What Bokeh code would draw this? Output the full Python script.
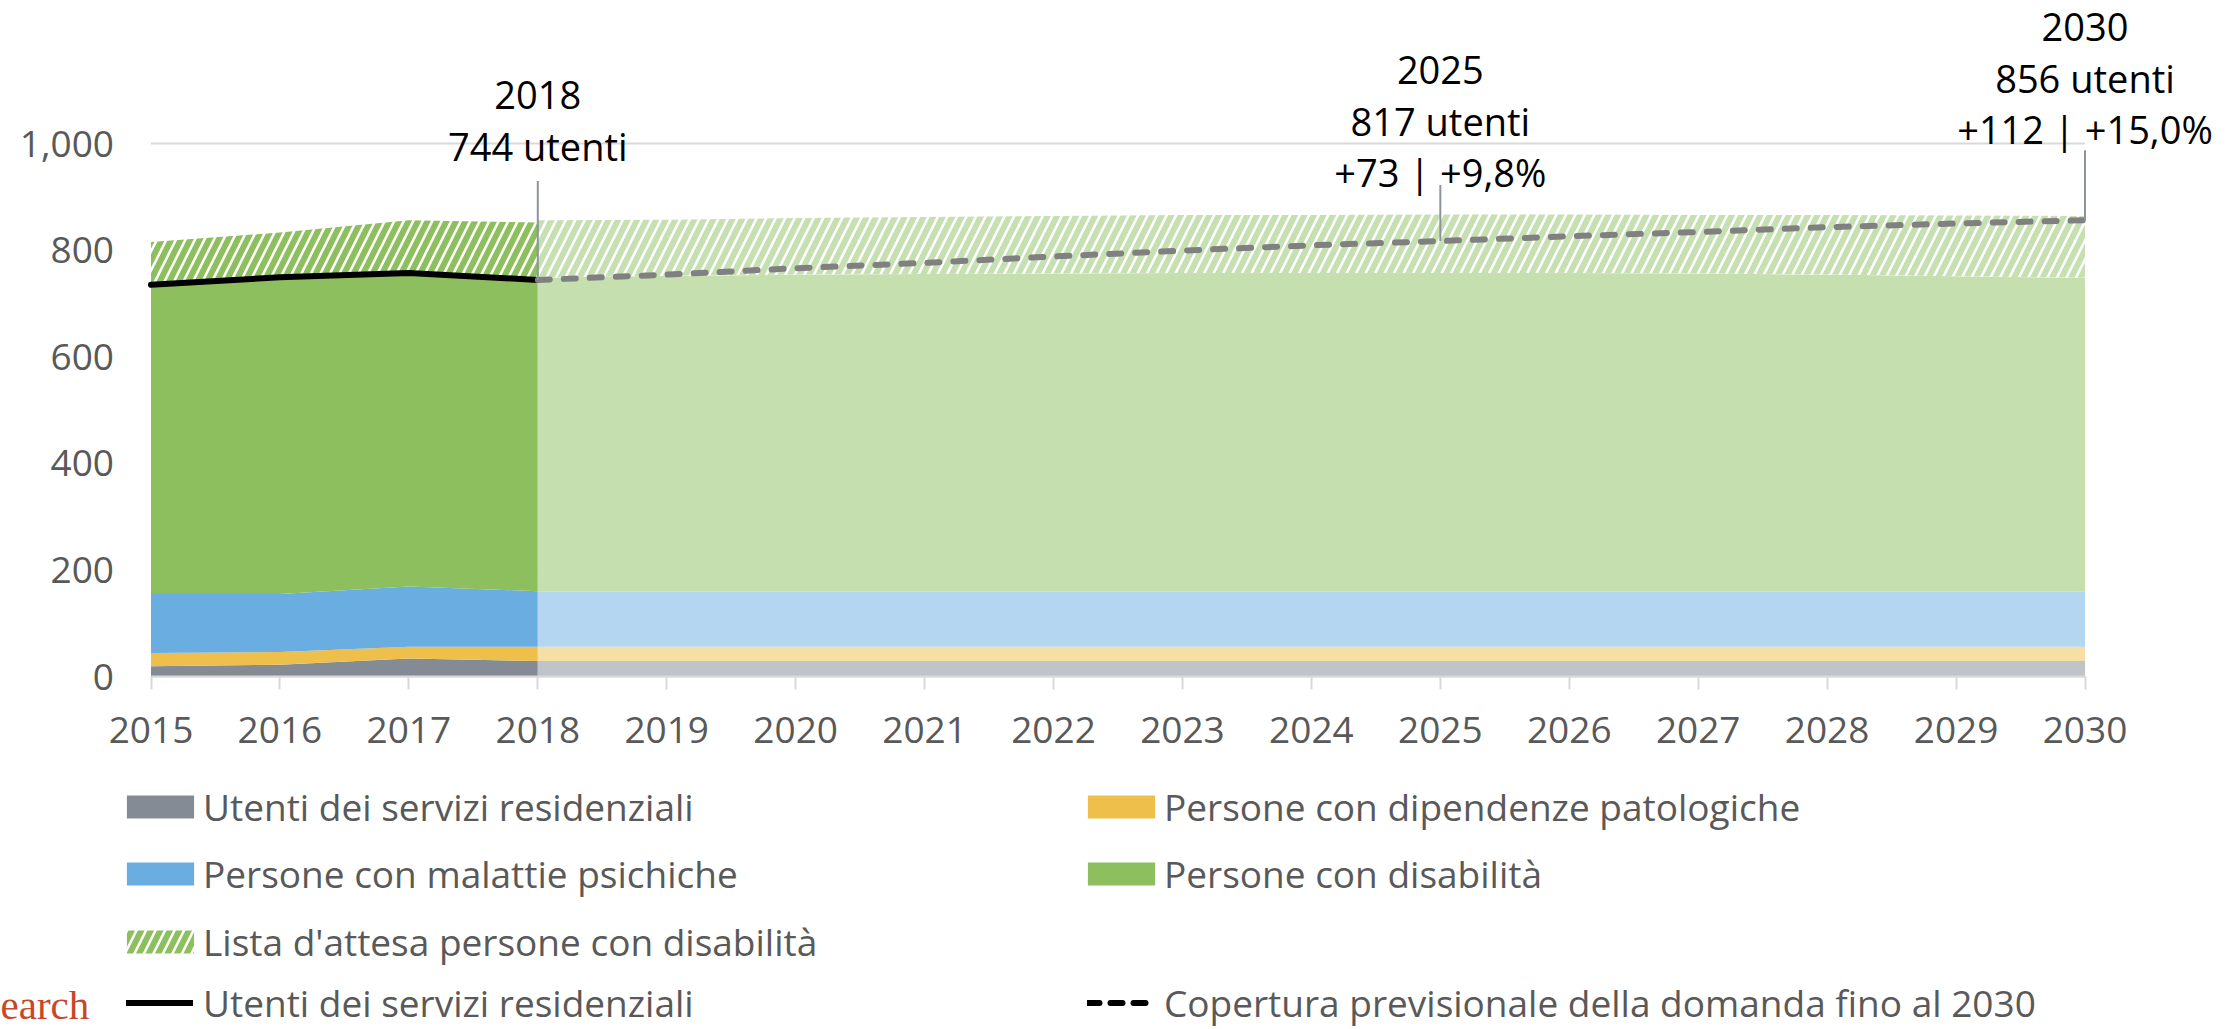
import numpy as np
from bokeh.plotting import figure
from bokeh.models import (Range1d, FixedTicker, NumeralTickFormatter, Legend,
                          LegendItem, Label)
from bokeh.embed import file_html
from bokeh.resources import INLINE

# ---------------- data ----------------
years_actual = [2015, 2016, 2017, 2018]
years_proj = [2018, 2019, 2020, 2021, 2022, 2023, 2024, 2025, 2026, 2027, 2028, 2029, 2030]

# observed stacked layers (2015-2018)
residenziali_actual = [19, 22, 34, 29]
dipendenze_actual = [25, 24, 22, 27]
psichiche_actual = [111, 109, 113, 104]
disabilita_actual = [580, 594, 588, 584]
attesa_actual = [80, 84, 99, 108]

# projected stacked layers (2018-2030)
residenziali_proj = [29, 29, 29, 29, 29, 29, 29, 29, 29, 29, 29, 29, 29]
dipendenze_proj = [27, 27, 27, 27, 27, 27, 27, 27, 27, 27, 27, 27, 27]
psichiche_proj = [104, 104, 104, 104, 104, 104, 104, 104, 104, 104, 104, 104, 104]
disabilita_proj = [588, 592, 594, 595, 596, 597, 597, 597, 597, 596, 594, 591, 588]
attesa_proj = [108, 105, 106, 107, 108, 109, 109, 110, 110, 110, 112, 114, 116]

# forecast coverage of demand (dashed line)
copertura_proj = [744, 754, 766, 776, 788, 799, 809, 817, 826, 834, 843, 850, 856]

# callouts
ann_years = [2018, 2025, 2030]
ann_values = [744, 817, 856]
ann_texts = [["2018", "744 utenti"],
             ["2025", "817 utenti", "+73 | +9,8%"],
             ["2030", "856 utenti", "+112 | +15,0%"]]

series_labels = ["Utenti dei servizi residenziali", "Persone con dipendenze patologiche",
                 "Persone con malattie psichiche", "Persone con disabilità",
                 "Lista d'attesa persone con disabilità", "Utenti dei servizi residenziali",
                 "Copertura previsionale della domanda fino al 2030"]

x_ticks = [2015, 2016, 2017, 2018, 2019, 2020, 2021, 2022, 2023, 2024, 2025, 2026,
           2027, 2028, 2029, 2030]
y_ticks = [0, 200, 400, 600, 800, 1000]

# ---------------- style ----------------
FONT = "Open Sans"
FS = "37px"
GREY_TXT = "#595959"
dark = ["#848B95", "#EEC04B", "#6AADE0", "#8DBF5E"]
light = ["#C0C3C8", "#F5DFA5", "#B4D6F0", "#C5DFAF"]
HATCH_DARK = "#8DBF5E"
HATCH_LIGHT = "#C6E0B2"

W, H = 2237, 1029
X0_PX, X1_PX = 150.5, 2084.5          # pixel positions of 2015 and 2030
Y0_PX, PX_PER_UNIT = 676.0, 0.533     # pixel row of value 0, pixels per unit
PX_PER_YEAR = (X1_PX - X0_PX) / 15.0
x_start = 2015 - X0_PX / PX_PER_YEAR
x_end = 2030 + (W - X1_PX) / PX_PER_YEAR
y_end = Y0_PX / PX_PER_UNIT
y_start = -(H - Y0_PX) / PX_PER_UNIT

p = figure(width=W, height=H, output_backend="svg", toolbar_location=None,
           x_range=Range1d(x_start, x_end), y_range=Range1d(y_start, y_end),
           min_border=0, background_fill_color="white", border_fill_color="white")
p.outline_line_color = None

# horizontal gridlines limited to the category span
p.segment(x0=[x_ticks[0]] * len(y_ticks), y0=y_ticks, x1=[x_ticks[-1]] * len(y_ticks),
          y1=y_ticks, line_color="#D9D9D9", line_width=2, level="underlay")

# ---------------- stacked areas ----------------
def stack(layers):
    arr = np.array(layers, dtype=float)
    tops = np.cumsum(arr, axis=0)
    bottoms = np.vstack([np.zeros(arr.shape[1]), tops[:-1]])
    return bottoms, tops

act_layers = [residenziali_actual, dipendenze_actual, psichiche_actual, disabilita_actual, attesa_actual]
proj_layers = [residenziali_proj, dipendenze_proj, psichiche_proj, disabilita_proj, attesa_proj]
ab, at = stack(act_layers)
pb, pt = stack(proj_layers)

act_r = []
for i in range(4):
    act_r.append(p.varea(x=years_actual, y1=ab[i], y2=at[i], fill_color=dark[i]))
    p.varea(x=years_proj, y1=pb[i], y2=pt[i], fill_color=light[i])

hatch_r = p.varea(x=years_actual, y1=ab[4], y2=at[4], fill_color="white",
                  hatch_pattern="/", hatch_color=HATCH_DARK, hatch_weight=6, hatch_scale=19)
p.varea(x=years_proj, y1=pb[4], y2=pt[4], fill_color="white",
        hatch_pattern="/", hatch_color=HATCH_LIGHT, hatch_weight=6, hatch_scale=19)

total_actual = at[3]
black_r = p.line(years_actual, total_actual, line_color="black", line_width=6,
                 line_cap="round", line_join="round")
p.line(years_proj, copertura_proj, line_color="#808080", line_width=6,
       line_dash="12 14", line_cap="round")
# hidden twin of the forecast line, only used for its (black) legend swatch
dash_key = p.line(years_proj, copertura_proj, line_color="black", line_width=6,
                  line_dash="12 11", line_cap="round", visible=False)

# ---------------- callouts ----------------
leader_px = [99, 56, 70]
bottom_px = [134, 69, 91]
PITCH = 51
for yr, v, texts, lp, bp in zip(ann_years, ann_values, ann_texts, leader_px, bottom_px):
    p.segment(x0=[yr], y0=[v], x1=[yr], y1=[v + lp / PX_PER_UNIT],
              line_color="#8C939B", line_width=2)
    n = len(texts)
    for k, t in enumerate(texts):
        off = bp + (n - 1 - k) * PITCH
        p.add_layout(Label(x=yr, y=v, y_offset=off, text=t, text_align="center",
                           text_baseline="middle", text_font=FONT, text_font_size="38px",
                           text_color="black"))

# ---------------- axes ----------------
xa = p.xaxis[0]
xa.fixed_location = 0
xa.ticker = FixedTicker(ticks=x_ticks)
xa.bounds = (x_ticks[0], x_ticks[-1])
xa.formatter = NumeralTickFormatter(format="0")
xa.axis_line_color = "#D9D9D9"
xa.axis_line_width = 2
xa.major_tick_line_color = "#D9D9D9"
xa.major_tick_line_width = 2
xa.major_tick_out = 13
xa.major_tick_in = 0
xa.minor_tick_line_color = None
xa.major_label_text_font = FONT
xa.major_label_text_font_size = FS
xa.major_label_text_color = GREY_TXT
xa.major_label_standoff = 27

ya = p.yaxis[0]
ya.fixed_location = x_ticks[0]
ya.ticker = FixedTicker(ticks=y_ticks)
ya.bounds = (y_ticks[0], y_ticks[-1])
ya.formatter = NumeralTickFormatter(format="0,0")
ya.axis_line_color = None
ya.major_tick_line_color = None
ya.minor_tick_line_color = None
ya.major_tick_out = 0
ya.major_tick_in = 0
ya.major_label_text_font = FONT
ya.major_label_text_font_size = FS
ya.major_label_text_color = GREY_TXT
ya.major_label_standoff = 37

p.xgrid.grid_line_color = None
p.ygrid.grid_line_color = None

# ---------------- legend ----------------
def add_legend(renderer, label, x, y, area=True):
    # area swatches are drawn by Bokeh at 80% of the glyph box
    gw, gh, so, dx = (84, 29, 1, -8) if area else (67, 23, 10, 0)
    lg = Legend(items=[LegendItem(label=label, renderers=[renderer])],
                location=(x + dx, y), orientation="vertical",
                glyph_width=gw, glyph_height=gh, label_height=23,
                label_standoff=so, label_text_font=FONT, label_text_font_size=FS,
                label_text_color=GREY_TXT, label_text_baseline="middle",
                padding=0, margin=0, spacing=0, inactive_fill_alpha=0,
                border_line_color=None, background_fill_alpha=0)
    p.add_layout(lg)

COL1, COL2 = 126, 1087
ROWS = [197, 130, 62, 1]
add_legend(act_r[0], series_labels[0], COL1, ROWS[0])
add_legend(act_r[1], series_labels[1], COL2, ROWS[0])
add_legend(act_r[2], series_labels[2], COL1, ROWS[1])
add_legend(act_r[3], series_labels[3], COL2, ROWS[1])
add_legend(hatch_r, series_labels[4], COL1, ROWS[2])
add_legend(black_r, series_labels[5], COL1, ROWS[3], area=False)
add_legend(dash_key, series_labels[6], COL2, ROWS[3], area=False)

# source logo text at the bottom left
p.add_layout(Label(x=0, y=2, x_units="screen", y_units="screen", text="earch",
                   text_align="left", text_baseline="bottom",
                   text_font="Liberation Serif", text_font_size="41px",
                   text_color="#C8462A"))

open("out.html", "w").write(file_html(p, INLINE))
